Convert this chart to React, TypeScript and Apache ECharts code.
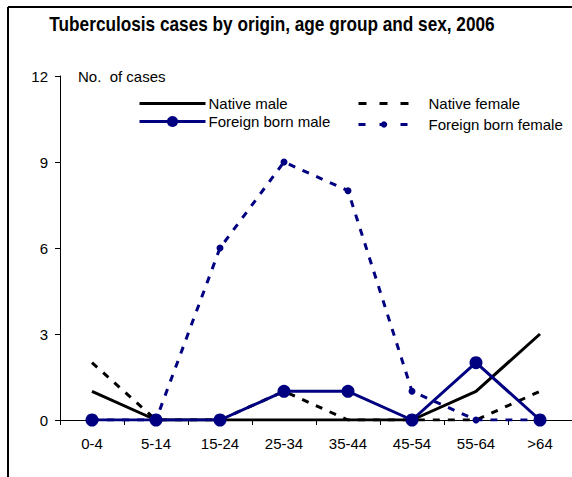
import React, { useEffect, useRef } from "react";
import * as echarts from "echarts";

const categories = ["0-4", "5-14", "15-24", "25-34", "35-44", "45-54", "55-64", ">64"];
const nativeMale = [1, 0, 0, 0, 0, 0, 1, 3];
const nativeFemale = [2, 0, 0, 1, 0, 0, 0, 1];
const foreignMale = [0, 0, 0, 1, 1, 0, 2, 0];
const foreignFemale = [0, 0, 6, 9, 8, 1, 0, 0];
const yTicks = { min: 0, max: 12, interval: 3 };

const NAVY = "#000080";
const FONT = "Arial, 'Liberation Sans', sans-serif";

const legendText = (padLeft: number) => ({
  fontFamily: FONT,
  fontSize: 15,
  color: "#000",
  padding: [0, 0, 0, padLeft],
});

export default function App() {
  const ref = useRef<HTMLDivElement>(null);
  useEffect(() => {
    if (!ref.current) return;
    const chart = echarts.init(ref.current, null, { renderer: "svg" });
    chart.setOption({
      animation: false,
      backgroundColor: "#ffffff",
      graphic: [
        { type: "line", shape: { x1: 8, y1: 7, x2: 572, y2: 7 }, style: { stroke: "#000", lineWidth: 2 } },
        { type: "line", shape: { x1: 8, y1: 7, x2: 8, y2: 477 }, style: { stroke: "#000", lineWidth: 2 } },
        {
          type: "text",
          x: 272,
          y: 24,
          scaleX: 0.82,
          originX: 0,
          style: {
            text: "Tuberculosis cases by origin, age group and sex, 2006",
            fontFamily: FONT,
            fontWeight: "bold",
            fontSize: 21,
            fill: "#000",
            align: "center",
            verticalAlign: "middle",
          },
        },
        {
          type: "text",
          x: 78,
          y: 76,
          style: { text: "No.  of cases", fontFamily: FONT, fontSize: 15, fill: "#000", verticalAlign: "middle" },
        },
      ],
      legend: [
        {
          data: [{ name: "Native male", itemStyle: { opacity: 0 } }],
          left: 138,
          top: 96,
          padding: 0,
          itemWidth: 66,
          itemHeight: 12,
          lineStyle: { width: 3 },
          textStyle: legendText(-2),
        },
        {
          data: ["Foreign born male"],
          left: 138,
          top: 114,
          padding: 0,
          itemWidth: 66,
          itemHeight: 14,
          lineStyle: { width: 3 },
          textStyle: legendText(-2),
        },
        {
          data: [{ name: "Native female", itemStyle: { opacity: 0 } }],
          left: 357,
          top: 96,
          padding: 0,
          itemWidth: 51,
          itemHeight: 12,
          lineStyle: { type: [8, 13], width: 3 },
          textStyle: legendText(14),
        },
        {
          data: ["Foreign born female"],
          left: 357,
          top: 117,
          padding: 0,
          itemWidth: 51,
          itemHeight: 8,
          lineStyle: { type: [7, 14], width: 3 },
          textStyle: legendText(14),
        },
      ],
      grid: { left: 60, right: 0, top: 76, bottom: 57, containLabel: false },
      xAxis: {
        type: "category",
        data: categories,
        boundaryGap: true,
        axisLine: { lineStyle: { color: "#000", width: 1 } },
        axisTick: { show: true, length: 5, lineStyle: { color: "#000" } },
        axisLabel: { fontFamily: FONT, fontSize: 15, color: "#000", margin: 16 },
      },
      yAxis: {
        type: "value",
        min: yTicks.min,
        max: yTicks.max,
        interval: yTicks.interval,
        splitLine: { show: false },
        axisLine: { show: true, lineStyle: { color: "#000", width: 1 } },
        axisTick: { show: true, length: 5, lineStyle: { color: "#000" } },
        axisLabel: { fontFamily: FONT, fontSize: 15, color: "#000", margin: 12 },
      },
      series: [
        {
          name: "Native male",
          type: "line",
          data: nativeMale,
          symbol: "none",
          color: "#000",
          lineStyle: { color: "#000", width: 3 },
          z: 2,
        },
        {
          name: "Native female",
          type: "line",
          data: nativeFemale,
          symbol: "none",
          color: "#000",
          lineStyle: { color: "#000", width: 3, type: [7, 8] },
          z: 2,
        },
        {
          name: "Foreign born female",
          type: "line",
          data: foreignFemale,
          symbol: "circle",
          symbolSize: 7,
          color: NAVY,
          itemStyle: { color: NAVY },
          lineStyle: { color: NAVY, width: 3, type: [7, 8] },
          z: 3,
        },
        {
          name: "Foreign born male",
          type: "line",
          data: foreignMale,
          symbol: "circle",
          symbolSize: 13,
          color: NAVY,
          itemStyle: { color: NAVY },
          lineStyle: { color: NAVY, width: 3 },
          z: 4,
        },
      ],
    });
    return () => chart.dispose();
  }, []);
  return (
    <div
      ref={ref}
      style={{ position: "fixed", left: 0, top: 0, width: 572, height: 477, background: "#fff" }}
    />
  );
}
